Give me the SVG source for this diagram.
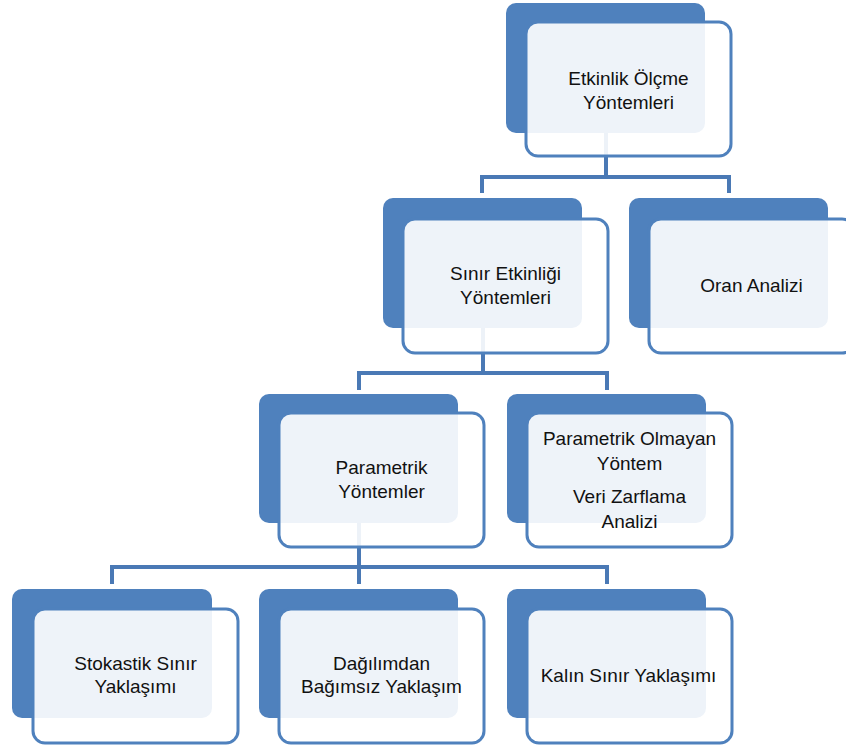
<svg xmlns="http://www.w3.org/2000/svg" width="846" height="747" viewBox="0 0 846 747">
<style>
.back{fill:#4F81BD}
.front{fill:#FFFFFF;fill-opacity:0.9;stroke:#4F81BD;stroke-width:3}
.conn{fill:none;stroke:#4A79B5;stroke-width:4}
text{font-family:"Liberation Sans",Arial,sans-serif;font-size:19px;fill:#111;text-anchor:middle}
</style>
<rect width="846" height="747" fill="#FFFFFF"/>
<g id="connectors">
<path class="conn" d="M606,133V177M482,193V177H729V193"/>
<path class="conn" d="M483,328V373M359,390V373H607V390"/>
<path class="conn" d="M359,523V567M112,584V567H607V584M359,567V584"/>
</g>
<g id="n1">
<rect class="back" x="506" y="3" width="199" height="130" rx="10"/>
<rect class="front" x="526" y="22" width="205" height="134" rx="12"/>
<text x="628.5" y="85">Etkinlik Ölçme</text>
<text x="628.5" y="109">Yöntemleri</text>
</g>
<g id="n2">
<rect class="back" x="383" y="198" width="199" height="130" rx="10"/>
<rect class="front" x="403" y="219" width="205" height="134" rx="12"/>
<text x="505.5" y="280">Sınır Etkinliği</text>
<text x="505.5" y="304">Yöntemleri</text>
</g>
<g id="n3">
<rect class="back" x="629" y="198" width="199" height="130" rx="10"/>
<rect class="front" x="649" y="219" width="205" height="134" rx="12"/>
<text x="751.5" y="292">Oran Analizi</text>
</g>
<g id="n4">
<rect class="back" x="259" y="394" width="199" height="129" rx="10"/>
<rect class="front" x="279" y="413" width="205" height="134" rx="12"/>
<text x="381.5" y="474">Parametrik</text>
<text x="381.5" y="498">Yöntemler</text>
</g>
<g id="n5">
<rect class="back" x="507" y="394" width="199" height="129" rx="10"/>
<rect class="front" x="527" y="413" width="205" height="134" rx="12"/>
<text x="629.5" y="445">Parametrik Olmayan</text>
<text x="629.5" y="470">Yöntem</text>
<text x="629.5" y="503">Veri Zarflama</text>
<text x="629.5" y="528">Analizi</text>
</g>
<g id="n6">
<rect class="back" x="12" y="589" width="200" height="129" rx="10"/>
<rect class="front" x="33" y="609" width="205" height="134" rx="12"/>
<text x="135.5" y="670">Stokastik Sınır</text>
<text x="135.5" y="693">Yaklaşımı</text>
</g>
<g id="n7">
<rect class="back" x="259" y="589" width="199" height="129" rx="10"/>
<rect class="front" x="279" y="609" width="205" height="134" rx="12"/>
<text x="381.5" y="670">Dağılımdan</text>
<text x="381.5" y="693">Bağımsız Yaklaşım</text>
</g>
<g id="n8">
<rect class="back" x="507" y="589" width="199" height="129" rx="10"/>
<rect class="front" x="527" y="609" width="205" height="134" rx="12"/>
<text x="628.5" y="682">Kalın Sınır Yaklaşımı</text>
</g>
</svg>
